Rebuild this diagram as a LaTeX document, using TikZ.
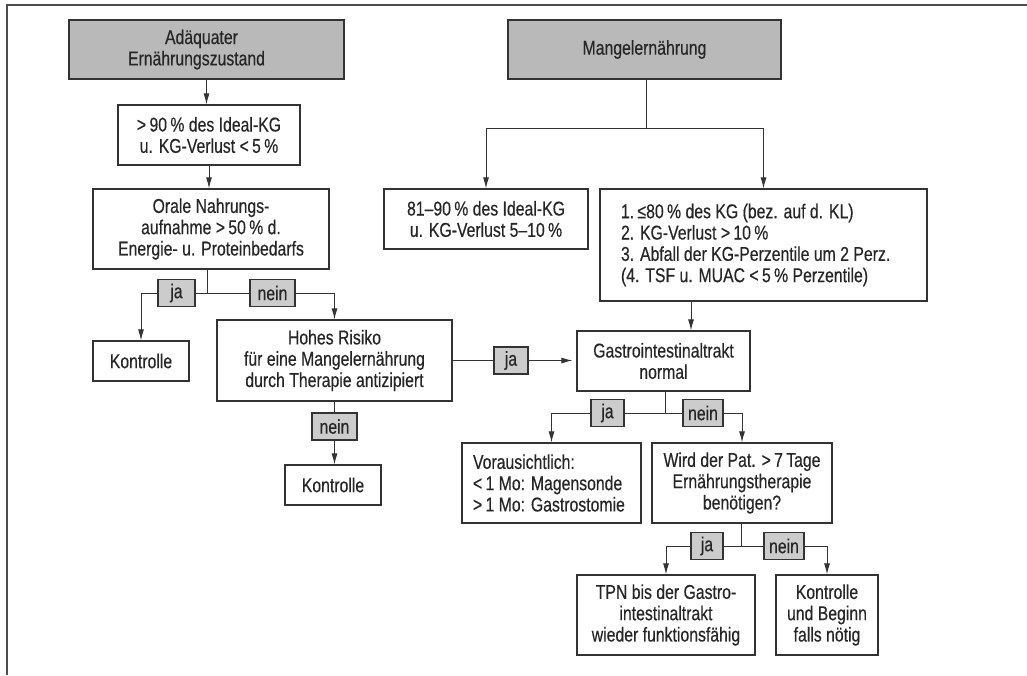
\documentclass[tikz,border=0pt]{standalone}
\usepackage{fontspec}
\setmainfont[FakeStretch=0.79, FakeBold=0.4]{Liberation Sans}
\usetikzlibrary{arrows.meta}

\tikzset{
  box/.style = {draw = black!80, line width = 1.2pt, align = center, inner sep = 0pt, text = black!85, font = \fontsize{20}{21.3}\selectfont},
  head/.style = {box, fill = gray!55},
  tag/.style = {box, fill = gray!40, minimum height = 27pt},
  line/.style = {draw = black!80, line width = 1pt},
  post/.style = {line, -{Latex[length = 11pt, width = 6pt]}}
}

\begin{document}
\begin{tikzpicture}[x = 1pt, y = -1pt]
\useasboundingbox (0, 0) rectangle (1027, 675);
\draw[gray!60!black, line width = 2pt] (7, 675) -- (7, 5) -- (1027, 5);

% left column
\node[head, minimum width = 275pt, minimum height = 59pt] (adq) at (206.5, 49.5) {Adäquater\hspace*{10pt}\\Ernährungszustand\hspace*{20pt}};
\node[box, minimum width = 182pt, minimum height = 60pt] (ideal) at (209, 135) {>\,90\,\% des Ideal-KG\\u. KG-Verlust <\,5\,\%};
\node[box, minimum width = 236pt, minimum height = 80pt] (orale) at (211, 229) {Orale Nahrungs-\\aufnahme >\,50\,\% d.\\Energie- u. Proteinbedarfs};
\node[box, minimum width = 96pt, minimum height = 40pt] (kon1) at (141, 361) {Kontrolle};
\node[box, minimum width = 235pt, minimum height = 81pt] (risiko) at (334.5, 360.5) {Hohes Risiko\\für eine Mangelernährung\\durch Therapie antizipiert};
\node[box, minimum width = 96pt, minimum height = 40pt] (kon2) at (333, 485) {Kontrolle};

% right column
\node[head, minimum width = 273pt, minimum height = 59pt] (mangel) at (644.5, 49.5) {Mangelernährung};
\node[box, minimum width = 204pt, minimum height = 60pt] (leicht) at (486, 219) {81–90\,\% des Ideal-KG\\u. KG-Verlust 5–10\,\%};
\node[box, align = flush left, text width = 285pt, inner xsep = 21pt, minimum height = 112pt] (schwer) at (763.5, 245) {1.\,≤80\,\% des KG (bez. auf d. KL)\\2. KG-Verlust >\,10\,\%\\3. Abfall der KG-Perzentile um 2 Perz.\\(4. TSF u. MUAC <\,5\,\% Perzentile)};
\node[box, minimum width = 173pt, minimum height = 60pt] (gastro) at (663.5, 361) {Gastrointestinaltrakt\\normal};
\node[box, align = flush left, text width = 157pt, inner xsep = 11pt, minimum height = 80pt] (voraus) at (551.5, 483) {Vorausichtlich:\\<\,1 Mo: Magensonde\\>\,1 Mo: Gastrostomie};
\node[box, minimum width = 180pt, minimum height = 80pt] (wird) at (742, 483) {Wird der Pat. >\,7\,Tage\\Ernährungstherapie\\benötigen?};
\node[box, minimum width = 178pt, minimum height = 80pt] (tpn) at (666, 615) {TPN bis der Gastro-\\intestinaltrakt\\wieder funktionsfähig};
\node[box, minimum width = 102pt, minimum height = 80pt] (beginn) at (827, 615) {Kontrolle\\und Beginn\\falls nötig};

% ja / nein
\node[tag, minimum width = 37pt] (ja1) at (176.5, 293) {ja};
\node[tag, minimum width = 45pt] (nein1) at (272.5, 293) {nein};
\node[tag, minimum width = 45pt] (nein2) at (334.5, 426.5) {nein};
\node[tag, minimum width = 34pt] (ja2) at (511, 360.5) {ja};
\node[tag, minimum width = 33pt] (ja3) at (607.5, 413) {ja};
\node[tag, minimum width = 40pt] (nein3) at (703, 413) {nein};
\node[tag, minimum width = 32pt] (ja4) at (707, 546) {ja};
\node[tag, minimum width = 40pt] (nein4) at (784, 546) {nein};

\coordinate (s1) at (207, 293);
\coordinate (s2) at (646, 128);
\coordinate (s3) at (665, 413);
\coordinate (s4) at (741, 546);
\coordinate (g1) at (691, 0);

\draw[post] (adq) -- (adq |- ideal.north);
\draw[post] (ideal) -- (ideal |- orale.north);
\draw[line] (orale.south -| s1) -- (s1);
\draw[line] (s1) -- (ja1);
\draw[post] (ja1) -| (kon1);
\draw[line] (s1) -- (nein1);
\draw[post] (nein1) -| (risiko);
\draw[line] (risiko) -- (nein2);
\draw[post] (nein2) -- (nein2 |- kon2.north);
\draw[line] (risiko) -- (ja2);
\draw[post, shorten > = 4pt] (ja2) -- (ja2 -| gastro.west);

\draw[line] (mangel.south -| s2) -- (s2);
\draw[post] (s2) -| (leicht);
\draw[post] (s2) -| (schwer);
\draw[post] (schwer.south -| g1) -- (gastro.north -| g1);
\draw[line] (gastro.south -| s3) -- (s3);
\draw[line] (s3) -- (ja3);
\draw[post] (ja3) -| (voraus);
\draw[line] (s3) -- (nein3);
\draw[post] (nein3) -| (wird);
\draw[line] (wird.south -| s4) -- (s4);
\draw[line] (s4) -- (ja4);
\draw[post] (ja4) -| (tpn);
\draw[line] (s4) -- (nein4);
\draw[post] (nein4) -| (beginn);
\end{tikzpicture}
\end{document}
